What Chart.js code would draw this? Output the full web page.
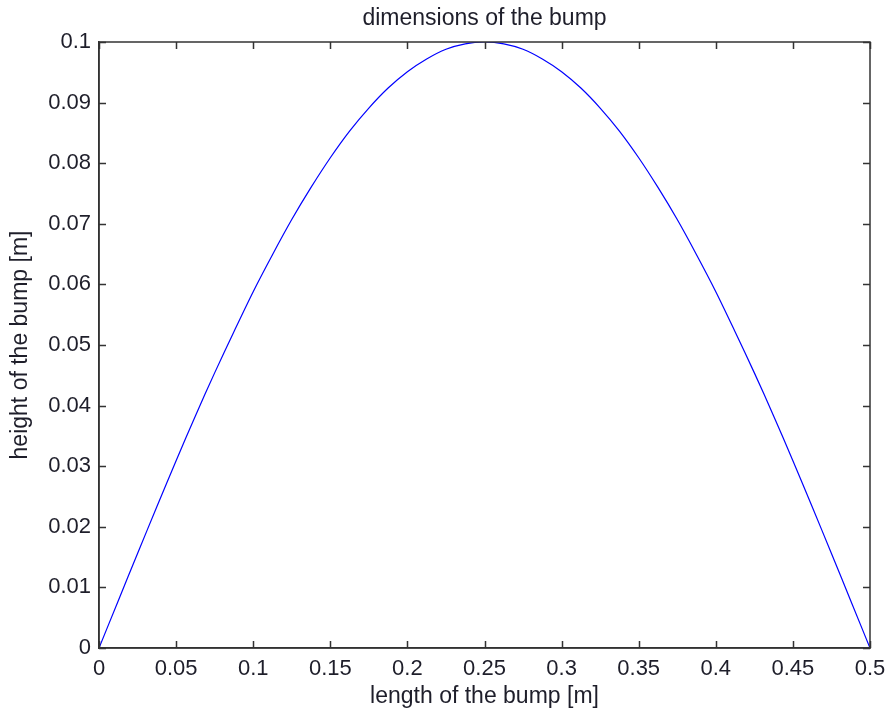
<!DOCTYPE html>
<html>
<head>
<meta charset="utf-8">
<script src="https://cdn.jsdelivr.net/npm/chart.js@4/dist/chart.umd.min.js"></script>
<style>
html,body{margin:0;padding:0;background:#fff;}
#wrap{width:888px;height:715px;}
</style>
</head>
<body>
<div id="wrap"><canvas id="c" width="888" height="715"></canvas></div>
<script>
// Data
const xValues = [0, 0.0125, 0.025, 0.0375, 0.05, 0.0625, 0.075, 0.0875, 0.1, 0.1125, 0.125, 0.1375, 0.15, 0.1625, 0.175, 0.1875, 0.2, 0.2125, 0.225, 0.2375, 0.25,
                 0.2625, 0.275, 0.2875, 0.3, 0.3125, 0.325, 0.3375, 0.35, 0.3625, 0.375, 0.3875, 0.4, 0.4125, 0.425, 0.4375, 0.45, 0.4625, 0.475, 0.4875, 0.5];
const heightValues = [0, 0.0078, 0.0156, 0.0233, 0.0309, 0.0383, 0.0454, 0.0522, 0.0588, 0.0649, 0.0707, 0.0760, 0.0809, 0.0853, 0.0891, 0.0924, 0.0951, 0.0972, 0.0988, 0.0997, 0.1000,
                      0.0997, 0.0988, 0.0972, 0.0951, 0.0924, 0.0891, 0.0853, 0.0809, 0.0760, 0.0707, 0.0649, 0.0588, 0.0522, 0.0454, 0.0383, 0.0309, 0.0233, 0.0156, 0.0078, 0];
const xTickValues = [0, 0.05, 0.1, 0.15, 0.2, 0.25, 0.3, 0.35, 0.4, 0.45, 0.5];
const xTickLabels = ['0', '0.05', '0.1', '0.15', '0.2', '0.25', '0.3', '0.35', '0.4', '0.45', '0.5'];
const yTickValues = [0, 0.01, 0.02, 0.03, 0.04, 0.05, 0.06, 0.07, 0.08, 0.09, 0.1];
const yTickLabels = ['0', '0.01', '0.02', '0.03', '0.04', '0.05', '0.06', '0.07', '0.08', '0.09', '0.1'];
const titleText = 'dimensions of the bump';
const xTitle = 'length of the bump [m]';
const yTitle = 'height of the bump [m]';

const FONT = 'Arial, "Liberation Sans", sans-serif';
const TEXT = '#1e1e2a';
const AXIS = '#333';

const points = xValues.map((x, i) => ({x: x, y: heightValues[i]}));

const boxPlugin = {
  id: 'matlabBox',
  afterDraw(chart) {
    const {ctx, chartArea: a, scales} = chart;
    ctx.save();
    ctx.strokeStyle = AXIS;
    ctx.lineWidth = 1.5;
    ctx.strokeRect(a.left, a.top, a.right - a.left, a.bottom - a.top);
    const tl = 7;
    ctx.beginPath();
    xTickValues.forEach(v => {
      const px = Math.round(scales.x.getPixelForValue(v)) + 0.5;
      ctx.moveTo(px, a.bottom); ctx.lineTo(px, a.bottom - tl);
      ctx.moveTo(px, a.top); ctx.lineTo(px, a.top + tl);
    });
    yTickValues.forEach(v => {
      const py = Math.round(scales.y.getPixelForValue(v)) + 0.5;
      ctx.moveTo(a.left, py); ctx.lineTo(a.left + tl, py);
      ctx.moveTo(a.right, py); ctx.lineTo(a.right - tl, py);
    });
    ctx.stroke();
    ctx.restore();
  }
};

new Chart(document.getElementById('c'), {
  type: 'scatter',
  data: {
    datasets: [{
      data: points,
      showLine: true,
      borderColor: '#0000ff',
      borderWidth: 1.2,
      pointRadius: 0,
      tension: 0.3,
      fill: false
    }]
  },
  options: {
    responsive: false,
    animation: false,
    devicePixelRatio: 1,
    layout: {padding: {left: 0, right: 18, top: 0, bottom: 0}},
    plugins: {
      legend: {display: false},
      tooltip: {enabled: false},
      title: {display: false}
    },
    scales: {
      x: {
        type: 'linear',
        min: 0, max: 0.5,
        afterBuildTicks(scale) { scale.ticks = xTickValues.map(v => ({value: v})); },
        afterFit(scale) { scale.height = 67; scale.paddingRight = 0; scale.paddingLeft = 0; },
        ticks: {
          color: TEXT,
          font: {family: FONT, size: 22},
          padding: 8,
          autoSkip: false,
          maxRotation: 0,
          callback: (v, i) => xTickLabels[i]
        },
        grid: {display: true, drawOnChartArea: false, drawTicks: false},
        border: {display: true, color: AXIS, width: 1.5},
        title: {
          display: true,
          text: xTitle,
          color: TEXT,
          font: {family: FONT, size: 23, lineHeight: 1.2},
          padding: {top: 0, bottom: 4.5}
        }
      },
      x2: {
        type: 'linear',
        position: 'top',
        min: 0, max: 0.5,
        afterFit(scale) { scale.height = 42; scale.paddingRight = 0; scale.paddingLeft = 0; },
        ticks: {display: false},
        grid: {display: false, drawTicks: false},
        border: {display: false},
        title: {
          display: true,
          text: titleText,
          color: TEXT,
          font: {family: FONT, size: 23, lineHeight: 1.2},
          padding: {top: 5, bottom: 0}
        }
      },
      y: {
        type: 'linear',
        min: 0, max: 0.1,
        afterBuildTicks(scale) { scale.ticks = yTickValues.map(v => ({value: v})); },
        afterFit(scale) { scale.width = 99; },
        ticks: {
          color: TEXT,
          font: {family: FONT, size: 22},
          padding: 8,
          autoSkip: false,
          callback: (v, i) => yTickLabels[i]
        },
        grid: {display: true, drawOnChartArea: false, drawTicks: false},
        border: {display: true, color: AXIS, width: 1.5},
        title: {
          display: true,
          text: yTitle,
          color: TEXT,
          font: {family: FONT, size: 23, lineHeight: 1.2},
          padding: {top: 7, bottom: 0}
        }
      }
    }
  },
  plugins: [boxPlugin]
});
</script>
</body>
</html>
